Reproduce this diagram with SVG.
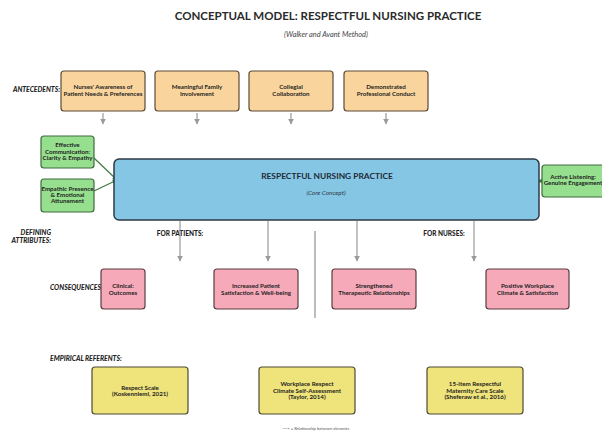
<svg xmlns="http://www.w3.org/2000/svg" width="602" height="432" viewBox="0 0 602 432">
<defs>
<style>
text{font-family:Lato,"Open Sans","Liberation Sans",sans-serif;text-anchor:middle}
.t{font-weight:bold;font-size:6.2px;fill:#1e1e1e}
.lab{font-weight:900;font-style:italic;font-size:6.8px;fill:#1e1e1e;text-anchor:end}
.ant{fill:#f9d59d;stroke:#5b4a36;stroke-width:1.2}
.grn{fill:#96df8e;stroke:#3f6b3f;stroke-width:1.2}
.pnk{fill:#f6a9b9;stroke:#5a3c40;stroke-width:1.2}
.yel{fill:#efe37c;stroke:#4e4a36;stroke-width:1.2}
.ga{stroke:#9a9a9a;stroke-width:1.2;fill:none}
.gl{stroke:#3f7a3f;stroke-width:1.2;fill:none}
</style>
<marker id="ah" viewBox="0 0 10 10" refX="9" refY="5" markerWidth="5" markerHeight="5" orient="auto" markerUnits="strokeWidth">
<path d="M0,0 L10,5 L0,10 z" fill="#9a9a9a"/>
</marker>
<marker id="gh" viewBox="0 0 10 10" refX="9" refY="5" markerWidth="4" markerHeight="4" orient="auto" markerUnits="strokeWidth">
<path d="M0,0 L10,5 L0,10 z" fill="#3f7a3f"/>
</marker>
</defs>
<rect width="602" height="432" fill="#fff"/>
<g id="title">
<text x="328" y="20" style="font-weight:bold;font-size:11.5px;fill:#2a2a2a">CONCEPTUAL MODEL: RESPECTFUL NURSING PRACTICE</text>
<text x="326" y="36.5" style="font-style:italic;font-size:7.4px;fill:#444">(Walker and Avant Method)</text>
</g>
<g id="labels">
<text class="lab" x="60" y="91.5">ANTECEDENTS:</text>
<text class="lab" x="51" y="235">DEFINING</text>
<text class="lab" x="51" y="243">ATTRIBUTES:</text>
<text class="lab" x="101" y="289.5">CONSEQUENCES</text>
<text class="lab" x="50" y="361" style="text-anchor:start">EMPIRICAL REFERENTS:</text>
<text x="180" y="235.5" style="font-weight:900;font-size:6.5px;fill:#1e1e1e">FOR PATIENTS:</text>
<text x="444" y="235.5" style="font-weight:900;font-size:6.5px;fill:#1e1e1e">FOR NURSES:</text>
</g>
<g id="connectors">
<line class="ga" x1="103" y1="113" x2="103" y2="124" marker-end="url(#ah)"/>
<line class="ga" x1="197" y1="113" x2="197" y2="124" marker-end="url(#ah)"/>
<line class="ga" x1="291" y1="113" x2="291" y2="124" marker-end="url(#ah)"/>
<line class="ga" x1="386" y1="113" x2="386" y2="124" marker-end="url(#ah)"/>
<line class="gl" x1="94" y1="158" x2="117" y2="180" marker-end="url(#gh)"/>
<line class="gl" x1="94" y1="191" x2="117" y2="180" marker-end="url(#gh)"/>
<line class="gl" x1="542" y1="181" x2="538" y2="181" marker-end="url(#gh)"/>
<line class="ga" x1="180" y1="221" x2="180" y2="261" marker-end="url(#ah)"/>
<line class="ga" x1="268" y1="221" x2="268" y2="261" marker-end="url(#ah)"/>
<line class="ga" x1="357" y1="221" x2="357" y2="261" marker-end="url(#ah)"/>
<line class="ga" x1="474" y1="221" x2="474" y2="261" marker-end="url(#ah)"/>
<line x1="315" y1="231" x2="315" y2="318" stroke="#9a9a9a" stroke-width="1.3"/>
</g>
<g id="ant1"><rect class="ant" x="61" y="71" width="84" height="40" rx="3"/><text class="t" x="103" y="89">Nurses' Awareness of</text><text class="t" x="103" y="96">Patient Needs &amp; Preferences</text></g>
<g id="ant2"><rect class="ant" x="155" y="71" width="84" height="40" rx="3"/><text class="t" x="197" y="89">Meaningful Family</text><text class="t" x="197" y="96">Involvement</text></g>
<g id="ant3"><rect class="ant" x="249" y="71" width="84" height="40" rx="3"/><text class="t" x="291" y="89">Collegial</text><text class="t" x="291" y="96">Collaboration</text></g>
<g id="ant4"><rect class="ant" x="344" y="71" width="84" height="40" rx="3"/><text class="t" x="386" y="89">Demonstrated</text><text class="t" x="386" y="96">Professional Conduct</text></g>
<g id="attr1"><rect class="grn" x="41" y="136" width="53" height="32" rx="3"/><text class="t" x="67.5" y="147">Effective</text><text class="t" x="67.5" y="153.5">Communication:</text><text class="t" x="67.5" y="160">Clarity &amp; Empathy</text></g>
<g id="attr2"><rect class="grn" x="41" y="179" width="53" height="33" rx="3"/><text class="t" x="67.5" y="191">Empathic Presence</text><text class="t" x="67.5" y="197">&amp; Emotional</text><text class="t" x="67.5" y="203">Attunement</text></g>
<g id="attr3"><rect class="grn" x="542" y="165" width="70" height="32" rx="3"/><text class="t" x="573" y="179">Active Listening:</text><text class="t" x="573" y="185">Genuine Engagement</text></g>
<g id="core"><rect x="114" y="159" width="425" height="61" rx="5" fill="#85c6e4" stroke="#2c3a48" stroke-width="1.5"/><text x="327" y="178.5" style="font-weight:bold;font-size:8.4px;fill:#1f2a36">RESPECTFUL NURSING PRACTICE</text><text x="326" y="195" style="font-style:italic;font-size:6.4px;fill:#2c3a48">(Core Concept)</text></g>
<g id="con1"><rect class="pnk" x="101" y="269" width="44" height="40" rx="3"/><text class="t" x="123" y="288">Clinical:</text><text class="t" x="123" y="294.5">Outcomes</text></g>
<g id="con2"><rect class="pnk" x="214" y="269" width="84" height="40" rx="3"/><text class="t" x="256" y="288">Increased Patient</text><text class="t" x="256" y="294.5">Satisfaction &amp; Well-being</text></g>
<g id="con3"><rect class="pnk" x="332" y="269" width="84" height="40" rx="3"/><text class="t" x="374" y="288">Strengthened</text><text class="t" x="374" y="294.5">Therapeutic Relationships</text></g>
<g id="con4"><rect class="pnk" x="486" y="269" width="83" height="40" rx="3"/><text class="t" x="527.5" y="288">Positive Workplace</text><text class="t" x="527.5" y="294.5">Climate &amp; Satisfaction</text></g>
<g id="ref1"><rect class="yel" x="92" y="367" width="96" height="47" rx="3"/><text class="t" x="140" y="389.5">Respect Scale</text><text class="t" x="140" y="395.5">(Koskenniemi, 2021)</text></g>
<g id="ref2"><rect class="yel" x="259" y="367" width="96" height="47" rx="3"/><text class="t" x="307" y="386">Workplace Respect</text><text class="t" x="307" y="392.5">Climate Self-Assessment</text><text class="t" x="307" y="399">(Taylor, 2014)</text></g>
<g id="ref3"><rect class="yel" x="427" y="367" width="96" height="47" rx="3"/><text class="t" x="475" y="386">15-item Respectful</text><text class="t" x="475" y="392.5">Maternity Care Scale</text><text class="t" x="475" y="399">(Sheferaw et al., 2016)</text></g>
<g id="legend"><text x="316" y="430" style="font-style:italic;font-size:4.3px;fill:#555">---&gt; = Relationship between elements</text></g>
</svg>
